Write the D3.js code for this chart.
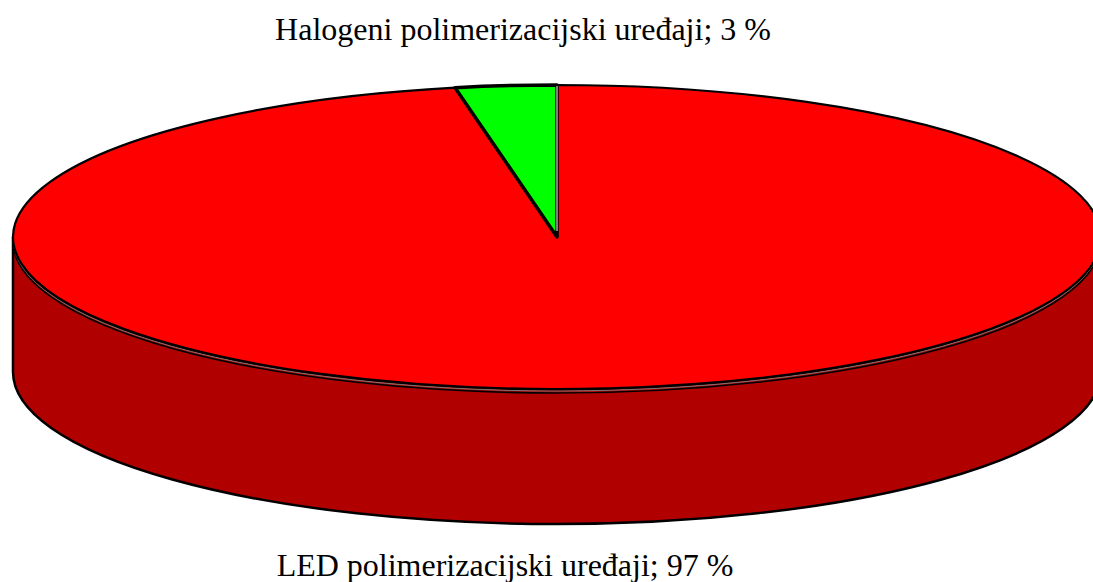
<!DOCTYPE html>
<html>
<head>
<meta charset="utf-8">
<script src="https://cdn.jsdelivr.net/npm/d3@7"></script>
<style>
  body { margin: 0; background: #fff; }
  svg { display: block; }
</style>
</head>
<body>
<div id="chart"></div>
<script>
// Chart data
const categories = ["LED polimerizacijski uređaji", "Halogeni polimerizacijski uređaji"];
const values = [97, 3];
const labels = ["LED polimerizacijski uređaji; 97 %", "Halogeni polimerizacijski uređaji; 3 %"];
const colors = ["#ff0000", "#00ff00"];
const sideColors = ["#b00000", "#00a000"];

const width = 1093;
const height = 582;

// pie geometry
const cx = 557, cy = 237;
const rx = 544, ry = 152;
const depth = 135;

const svg = d3.select("#chart")
    .append("svg")
    .attr("width", width)
    .attr("height", height);

const pie = d3.pie().sort(null).value(d => d)(values);

// point on the ellipse, angle measured clockwise from 12 o'clock
function pt(a, dy) {
    return [cx + rx * Math.sin(a), cy - ry * Math.cos(a) + (dy || 0)];
}

function topPath(d) {
    const p0 = pt(d.startAngle), p1 = pt(d.endAngle);
    const large = d.endAngle - d.startAngle > Math.PI ? 1 : 0;
    return `M${cx},${cy}L${p0}A${rx},${ry} 0 ${large} 1 ${p1}Z`;
}

// front wall: only the part between 90deg and 270deg is visible
function sidePath(d) {
    const a0 = Math.max(d.startAngle, Math.PI / 2);
    const a1 = Math.min(d.endAngle, 3 * Math.PI / 2);
    if (a1 <= a0) return null;
    const t0 = pt(a0), t1 = pt(a1);
    const b0 = pt(a0, depth), b1 = pt(a1, depth);
    return `M${t0}A${rx},${ry} 0 0 1 ${t1}L${b1}A${rx},${ry} 0 0 0 ${b0}Z`;
}

function frontArc(dy) {
    const t0 = pt(Math.PI / 2, dy), t1 = pt(3 * Math.PI / 2, dy);
    return `M${t0}A${rx},${ry} 0 0 1 ${t1}`;
}

// side walls
svg.selectAll(".side")
    .data(pie.filter(d => sidePath(d)))
    .enter().append("path")
    .attr("class", "side")
    .attr("d", sidePath)
    .attr("fill", d => sideColors[d.index])
    .attr("stroke", "#000")
    .attr("stroke-width", 2.5)
    .attr("stroke-linejoin", "round");

// double rim line where the top meets the wall
svg.append("path").attr("d", frontArc(4)).attr("fill", "none")
    .attr("stroke", "#000").attr("stroke-width", 1.6);
svg.append("path").attr("d", frontArc(2)).attr("fill", "none")
    .attr("stroke", "#777").attr("stroke-width", 1);

// top faces
svg.selectAll(".top")
    .data(pie)
    .enter().append("path")
    .attr("class", "top")
    .attr("d", topPath)
    .attr("fill", d => colors[d.index])
    .attr("stroke", "#000")
    .attr("stroke-width", d => d.index === 1 ? 3.5 : 2.2)
    .attr("stroke-linejoin", "round");

// thin white separator at 12 o'clock
const top0 = pt(0);
svg.append("line")
    .attr("x1", top0[0]).attr("y1", top0[1] + 1)
    .attr("x2", cx).attr("y2", cy - 6)
    .attr("stroke", "#fff").attr("stroke-width", 1);

// labels
svg.append("text")
    .attr("x", 523).attr("y", 40)
    .attr("text-anchor", "middle")
    .style("font-family", "'Liberation Serif', 'Times New Roman', serif")
    .style("font-size", "32px")
    .text(labels[1]);

svg.append("text")
    .attr("x", 505).attr("y", 576)
    .attr("text-anchor", "middle")
    .style("font-family", "'Liberation Serif', 'Times New Roman', serif")
    .style("font-size", "32px")
    .text(labels[0]);
</script>
</body>
</html>
